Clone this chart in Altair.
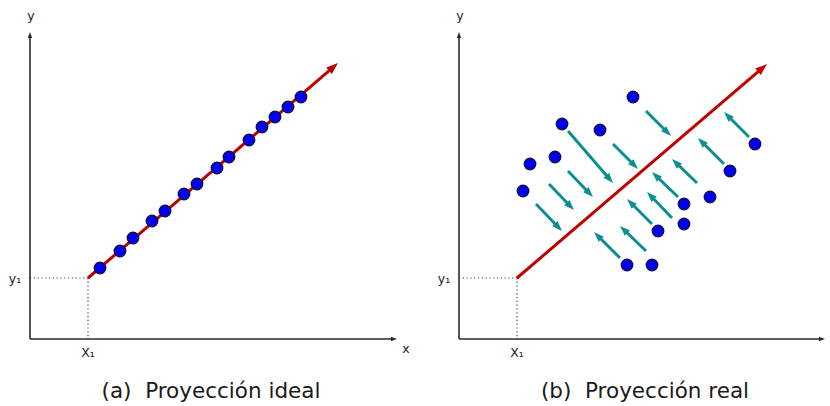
import altair as alt
import pandas as pd
import numpy as np

# ---------------- data (panel-local coordinates: origin at the axes origin, x right, y up)
PANEL_W, PANEL_H = 415, 406
XDOM_A = [-30, 385]
XDOM_B = [-44, 371]
YDOM = [-67, 339]

# projection reference point
x1_val = 58
y1_val = 61

# main projection direction (red arrow) end point
dir_end_a = (308, 276)
dir_end_b = (308, 275)

# axes extent
yaxis_top = 307
xaxis_end_a = 367
xaxis_end_b = 366

# panel (a): points lying on the line
a_px = [70, 90, 103, 122, 135, 154, 167, 187, 199, 219, 232, 245, 258, 271]
a_py = [71, 88, 101, 118, 128, 145, 155, 171, 182, 199, 212, 222, 232, 242]

# panel (b): scattered points
b_px = [174, 103, 141, 296, 71, 96, 271, 64, 251, 225, 225, 199, 168, 193]
b_py = [242, 215, 209, 195, 175, 182, 168, 148, 142, 135, 115, 108, 74, 74]

# panel (b): projection arrows (start -> tip)
arr_x0 = [187, 109, 154, 290, 109, 90, 77, 265, 238, 219, 213, 193, 187, 161]
arr_y0 = [228, 208, 195, 202, 168, 155, 135, 175, 156, 142, 121, 115, 88, 81]
arr_x1 = [212, 154, 179, 265, 134, 115, 103, 239, 213, 193, 188, 168, 161, 135]
arr_y1 = [203, 156, 170, 227, 142, 129, 108, 201, 180, 167, 147, 140, 113, 107]

titles = ["(a)\u00a0\u00a0Proyección ideal", "(b)\u00a0\u00a0Proyección real"]

# ---------------- helpers
HEAD = "M0,0L-0.36,1L0.36,1Z"   # arrow head with its tip at the symbol origin

RED = "#bf0000"
TEAL = "#0e8f8f"
BLUE = "#0000f0"
AXC = "#2a2a2a"
FONT = "DejaVu Sans"


def xy(xdom):
    return dict(
        x=alt.X("x:Q", scale=alt.Scale(domain=xdom, nice=False, zero=False), axis=None),
        y=alt.Y("y:Q", scale=alt.Scale(domain=YDOM, nice=False, zero=False), axis=None),
    )


def arrows(x0, y0, x1, y1, back):
    """Return shaft table (shortened) and head table (tip + angle)."""
    x0 = np.asarray(x0, float); y0 = np.asarray(y0, float)
    x1 = np.asarray(x1, float); y1 = np.asarray(y1, float)
    dx, dy = x1 - x0, y1 - y0
    L = np.hypot(dx, dy)
    shafts = pd.DataFrame({"x": x0, "y": y0,
                           "x2": x1 - dx / L * back, "y2": y1 - dy / L * back})
    ang = np.degrees(np.arctan2(dx, dy)) % 360
    heads = pd.DataFrame({"x": x1, "y": y1, "angle": ang})
    return shafts, heads


def panel(xdom, px, py, red_end, xaxis_end, title, title_x, xlabel, teal=None):
    e = xy(xdom)
    layers = []

    # axes lines with small arrow heads
    ax_sh, ax_hd = arrows([0, 0], [0, 0], [0, xaxis_end], [yaxis_top, 0], 3)
    layers.append(alt.Chart(ax_sh).mark_rule(color=AXC, strokeWidth=1.6).encode(
        **e, x2="x2:Q", y2="y2:Q"))
    layers.append(alt.Chart(ax_hd).mark_point(shape=HEAD, size=150, filled=True,
                                               color=AXC, opacity=1).encode(
        **e, angle=alt.Angle("angle:Q", scale=None)))

    # dotted guides to x1 / y1
    dots = pd.DataFrame({"x": [0, x1_val], "y": [y1_val, y1_val],
                         "x2": [x1_val, x1_val], "y2": [y1_val, 0]})
    layers.append(alt.Chart(dots).mark_rule(color="#444444", strokeWidth=1.2,
                                            strokeDash=[1.2, 2.6]).encode(
        **e, x2="x2:Q", y2="y2:Q"))

    # teal projection arrows
    if teal is not None:
        t_sh, t_hd = arrows(*teal, back=6)
        layers.append(alt.Chart(t_sh).mark_rule(color=TEAL, strokeWidth=3).encode(
            **e, x2="x2:Q", y2="y2:Q"))
        layers.append(alt.Chart(t_hd).mark_point(shape=HEAD, size=420, filled=True,
                                                  color=TEAL, opacity=1).encode(
            **e, angle=alt.Angle("angle:Q", scale=None)))

    # red principal direction
    r_sh, r_hd = arrows([x1_val], [y1_val], [red_end[0]], [red_end[1]], 7)
    layers.append(alt.Chart(r_sh).mark_rule(color=RED, strokeWidth=3).encode(
        **e, x2="x2:Q", y2="y2:Q"))
    layers.append(alt.Chart(r_hd).mark_point(shape=HEAD, size=560, filled=True,
                                              color=RED, opacity=1).encode(
        **e, angle=alt.Angle("angle:Q", scale=None)))

    # data points
    pts = pd.DataFrame({"x": px, "y": py})
    layers.append(alt.Chart(pts).mark_circle(size=135, color=BLUE, opacity=1,
                                             stroke="#0a0a30", strokeWidth=1.2).encode(**e))

    # small labels
    lab = pd.DataFrame({"x": [1, x1_val, -15] + ([376] if xlabel else []),
                        "y": [323, -14, 60] + ([-10] if xlabel else []),
                        "t": ["y", "X\u2081", "y\u2081"] + (["x"] if xlabel else [])})
    layers.append(alt.Chart(lab).mark_text(font=FONT, fontSize=12.5, color="#222222",
                                           baseline="middle", align="center").encode(
        **e, text="t:N"))

    # caption
    cap = pd.DataFrame({"x": [title_x], "y": [-53], "t": [title]})
    layers.append(alt.Chart(cap).mark_text(font=FONT, fontSize=21.5, color="#1a1a1a",
                                           baseline="middle", align="center").encode(
        **e, text="t:N"))

    return alt.layer(*layers).properties(width=PANEL_W, height=PANEL_H)


pa = panel(XDOM_A, a_px, a_py, dir_end_a, xaxis_end_a, titles[0], 181, True)
pb = panel(XDOM_B, b_px, b_py, dir_end_b, xaxis_end_b, titles[1], 186, False,
           teal=(arr_x0, arr_y0, arr_x1, arr_y1))

chart = alt.hconcat(pa, pb, spacing=0).properties(
    padding=0, background="white"
).configure_view(stroke=None)

chart.save("out.html", embed_options={"renderer": "svg", "actions": False})
